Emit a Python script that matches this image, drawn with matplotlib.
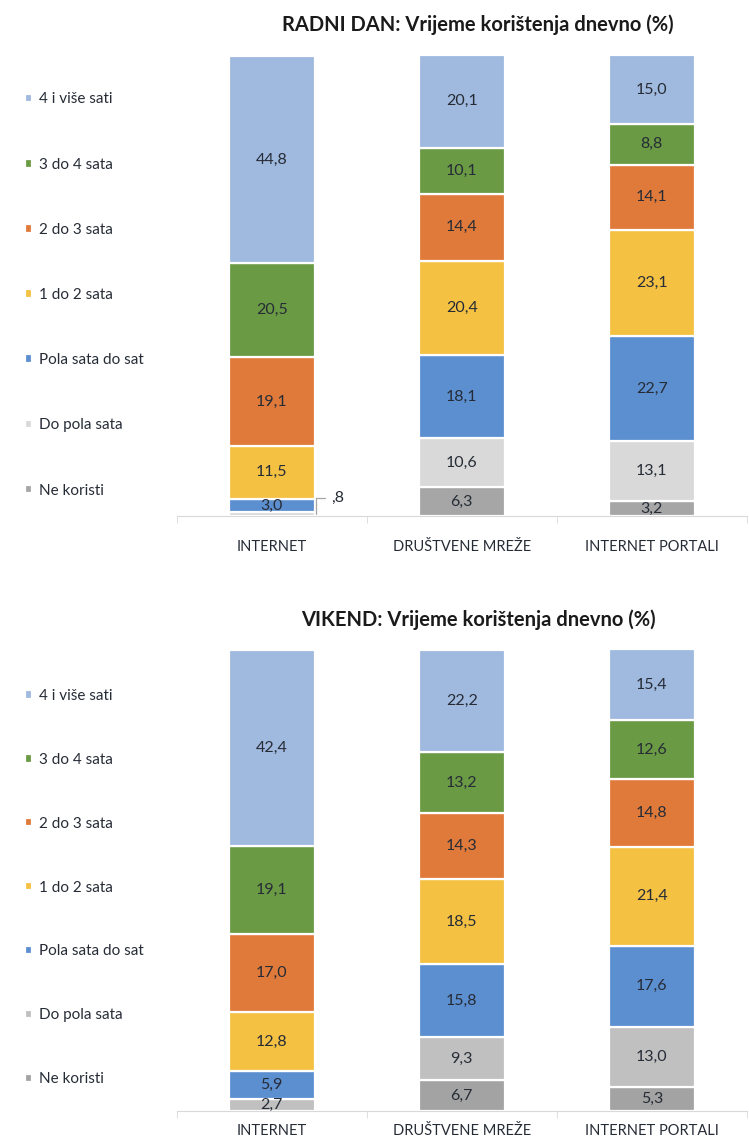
import matplotlib
matplotlib.use("Agg")
import matplotlib.pyplot as plt
import numpy as np

plt.rcParams['font.family'] = ['Lato', 'DejaVu Sans']

categories = ['INTERNET', 'DRUŠTVENE MREŽE', 'INTERNET PORTALI']
series = ['Ne koristi', 'Do pola sata', 'Pola sata do sat', '1 do 2 sata',
          '2 do 3 sata', '3 do 4 sata', '4 i više sati']

# radni dan (order follows series, bottom to top)
radni_ne_koristi = [0.0, 6.3, 3.2]
radni_do_pola = [0.8, 10.6, 13.1]
radni_pola_do_sat = [3.0, 18.1, 22.7]
radni_1_2 = [11.5, 20.4, 23.1]
radni_2_3 = [19.1, 14.4, 14.1]
radni_3_4 = [20.5, 10.1, 8.8]
radni_4_vise = [44.8, 20.1, 15.0]

# vikend
vikend_ne_koristi = [0.0, 6.7, 5.3]
vikend_do_pola = [2.7, 9.3, 13.0]
vikend_pola_do_sat = [5.9, 15.8, 17.6]
vikend_1_2 = [12.8, 18.5, 21.4]
vikend_2_3 = [17.0, 14.3, 14.8]
vikend_3_4 = [19.1, 13.2, 12.6]
vikend_4_vise = [42.4, 22.2, 15.4]

text_col = '#262C36'


def draw_chart(ax, data, colors, title, leg_y, leg_space, tick_pad, small_label=None):
    x = np.arange(len(categories))
    bottom = np.zeros(len(categories))
    bars = []
    for name, vals, col in zip(series, data, colors):
        vals = np.array(vals)
        b = ax.bar(x, vals, 0.45, bottom=bottom, color=col, edgecolor='white',
                   linewidth=1.6, label=name)
        bars.append(b)
        for xi, v, bt in zip(x, vals, bottom):
            if v >= 2.5:
                ax.text(xi, bt + v / 2, f'{v:.1f}'.replace('.', ','), ha='center',
                        va='center', fontsize=11.5, color=text_col)
        bottom += vals
    if small_label is not None:
        idx, ser = small_label
        v = data[ser][idx]
        base = sum(d[idx] for d in data[:ser])
        ax.annotate(f'{v:.1f}'.replace('0.', ',').replace('.', ','),
                    xy=(idx + 0.232, base + v / 2), xytext=(idx + 0.31, 3.9),
                    fontsize=11.5, color=text_col, ha='left', va='center',
                    arrowprops=dict(arrowstyle='-', color='#A6A6A6', lw=0.9,
                                    connectionstyle='angle,angleA=0,angleB=90,rad=0',
                                    shrinkA=2, shrinkB=0))
    ax.set_xlim(-0.5, 2.5)
    ax.set_ylim(0, 100)
    ax.set_yticks([])
    for s in ['left', 'right', 'top']:
        ax.spines[s].set_visible(False)
    ax.spines['bottom'].set_color('#D9D9D9')
    ax.set_xticks(x)
    ax.set_xticklabels(categories, fontsize=10.5, color=text_col)
    ax.tick_params(axis='x', length=0, pad=tick_pad)
    ax.set_xticks([-0.5, 0.5, 1.5, 2.5], minor=True)
    ax.tick_params(axis='x', which='minor', length=5, color='#D9D9D9')
    pos = ax.get_position()
    ax.figure.text(478 / 749, pos.y1 + 30 / 1142, title, ha='center', va='center',
                   fontsize=14.5, fontweight='bold', color='#1A1A1A')
    handles = bars[::-1]
    ax.figure.legend(handles=handles, labels=[h.get_label() for h in handles],
                     loc='center left', bbox_to_anchor=(0.033, leg_y), frameon=False,
                     fontsize=11, labelspacing=leg_space, handlelength=0.5,
                     handleheight=0.5, handletextpad=0.45, borderpad=0,
                     borderaxespad=0, labelcolor=text_col)


fig = plt.figure(figsize=(7.49, 11.42), dpi=100)
ax1 = fig.add_axes([0.236, 0.548, 0.761, 0.404])
ax2 = fig.add_axes([0.236, 0.027, 0.761, 0.404])

colors_top = ['#A6A6A6', '#D9D9D9', '#5C8FD0', '#F4C143', '#E07A3A', '#6B9A45', '#A0B9DF']
colors_bot = ['#A3A3A3', '#C0C0C0', '#5C8FD0', '#F4C143', '#E07A3A', '#6B9A45', '#A0B9DF']

radni = [radni_ne_koristi, radni_do_pola, radni_pola_do_sat, radni_1_2,
         radni_2_3, radni_3_4, radni_4_vise]
vikend = [vikend_ne_koristi, vikend_do_pola, vikend_pola_do_sat, vikend_1_2,
          vikend_2_3, vikend_3_4, vikend_4_vise]

draw_chart(ax1, radni, colors_top, 'RADNI DAN: Vrijeme korištenja dnevno (%)',
           1 - 295 / 1142, 3.35, 17, small_label=(0, 1))
draw_chart(ax2, vikend, colors_bot, 'VIKEND: Vrijeme korištenja dnevno (%)',
           1 - 887.5 / 1142, 3.27, 9)

fig.savefig('out.png', dpi=100)
